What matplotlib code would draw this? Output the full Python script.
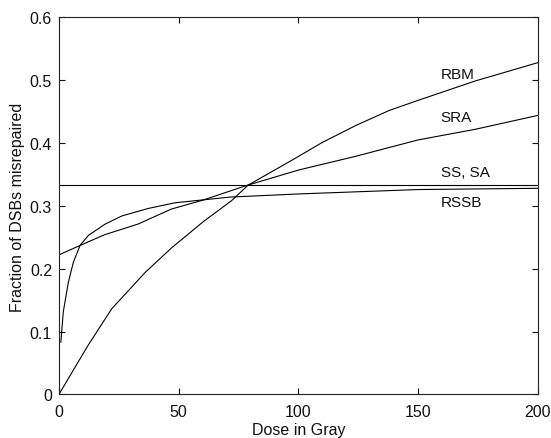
import matplotlib
matplotlib.use('Agg')
import matplotlib.pyplot as plt

plt.rcParams['font.family'] = ['Liberation Sans', 'DejaVu Sans']

# dose (Gy) and fraction of DSBs misrepaired
rbm_dose = [0, 12, 22, 36, 47, 60, 72, 79, 97, 110, 124, 138, 150, 174, 200]
rbm_frac = [0, 0.077, 0.136, 0.194, 0.233, 0.274, 0.308, 0.333, 0.372, 0.401,
            0.428, 0.452, 0.468, 0.499, 0.528]

sra_dose = [0, 10, 19, 33, 47, 60, 78, 100, 124, 150, 174, 200]
sra_frac = [0.222, 0.239, 0.254, 0.271, 0.295, 0.309, 0.332, 0.357, 0.379,
            0.405, 0.422, 0.444]

ss_dose = [0, 200]
ss_frac = [1 / 3, 1 / 3]

rssb_dose = [0.8, 1.8, 3.9, 6, 8.8, 12.3, 19.3, 26.3, 37.4, 48.6, 71.5, 100, 150, 200]
rssb_frac = [0.083, 0.131, 0.178, 0.210, 0.237, 0.253, 0.271, 0.284, 0.296,
             0.305, 0.314, 0.319, 0.326, 0.328]

labels = ['RBM', 'SRA', 'SS, SA', 'RSSB']
label_y = [0.510, 0.441, 0.354, 0.306]

x_ticks = [0, 50, 100, 150, 200]
y_ticks = [0, 0.1, 0.2, 0.3, 0.4, 0.5, 0.6]
y_ticklabels = ['0', '0.1', '0.2', '0.3', '0.4', '0.5', '0.6']

fig = plt.figure(figsize=(5.51, 4.39), dpi=100)
ax = fig.add_axes([0.107, 0.0995, 0.869, 0.8585])

for d, f in [(rbm_dose, rbm_frac), (sra_dose, sra_frac),
             (ss_dose, ss_frac), (rssb_dose, rssb_frac)]:
    ax.plot(d, f, color='black', lw=0.8)

# curve names, placed at the right like in the original
for lab, y in zip(labels, label_y):
    ax.text(159.5, y, lab, fontsize=11, va='center', ha='left', color='#111111')

ax.set_xlim(0, 200)
ax.set_ylim(0, 0.6)
ax.set_xticks(x_ticks)
ax.set_yticks(y_ticks)
ax.set_yticklabels(y_ticklabels)
ax.tick_params(direction='in', top=True, right=True, length=4, labelsize=11.5,
               colors='#111111')
ax.tick_params(axis='x', pad=7)
ax.tick_params(axis='y', pad=5)
ax.set_xlabel('Dose in Gray', fontsize=11.5, labelpad=2, color='#111111')
ax.set_ylabel('Fraction of DSBs misrepaired', fontsize=11.5, labelpad=3,
              color='#111111')
for s in ax.spines.values():
    s.set_color('#222222')

fig.savefig('out.png', dpi=100)
